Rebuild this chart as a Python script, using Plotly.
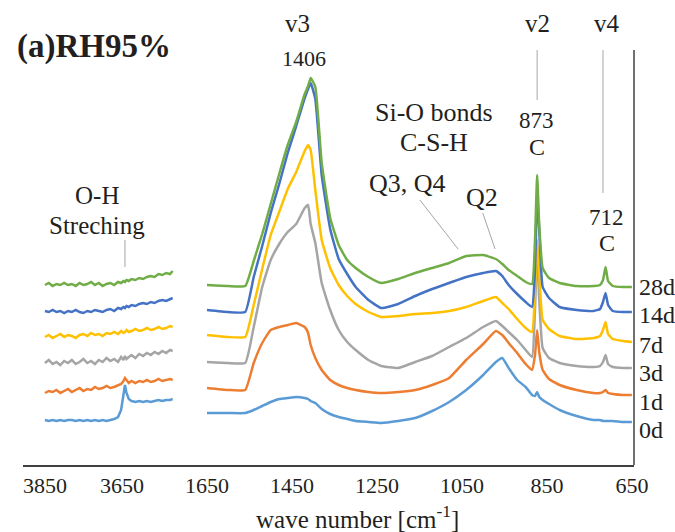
import plotly.graph_objects as go

# ---------------- data ----------------
ages = ["0d", "1d", "3d", "7d", "14d", "28d"]
colors = ["#5B9BD5", "#ED7D31", "#A5A5A5", "#FFC000", "#4472C4", "#70AD47"]

# O-H stretching region (cm-1)
wn_oh = [3850, 3840, 3830, 3820, 3810, 3800, 3790, 3780, 3770, 3760,
         3750, 3740, 3730, 3720, 3710, 3700, 3690, 3680, 3670, 3660,
         3652, 3646, 3642, 3638, 3632, 3625, 3615, 3605, 3595, 3585,
         3575, 3565, 3555, 3545, 3535, 3525, 3518]
oh_0d = [0.45, 0.44, 0.45, 0.44, 0.45, 0.44, 0.45, 0.45, 0.44, 0.45,
         0.44, 0.45, 0.44, 0.45, 0.44, 0.45, 0.44, 0.45, 0.46, 0.48,
         0.55, 0.70, 0.80, 0.72, 0.66, 0.64, 0.63, 0.64, 0.63, 0.64,
         0.63, 0.64, 0.65, 0.64, 0.65, 0.65, 0.66]
oh_1d = [0.72, 0.74, 0.73, 0.75, 0.72, 0.74, 0.76, 0.73, 0.75, 0.77,
         0.74, 0.76, 0.75, 0.78, 0.76, 0.77, 0.79, 0.77, 0.78, 0.80,
         0.81, 0.84, 0.87, 0.85, 0.82, 0.84, 0.82, 0.84, 0.83, 0.85,
         0.83, 0.84, 0.86, 0.84, 0.85, 0.86, 0.85]
oh_3d = [1.02, 1.05, 1.01, 1.03, 1.00, 1.04, 1.02, 1.05, 1.01, 1.03,
         1.06, 1.02, 1.04, 1.01, 1.05, 1.03, 1.07, 1.04, 1.06, 1.03,
         1.08, 1.05, 1.09, 1.06, 1.08, 1.10, 1.07, 1.11, 1.09, 1.12,
         1.10, 1.13, 1.11, 1.14, 1.12, 1.15, 1.14]
oh_7d = [1.28, 1.30, 1.27, 1.29, 1.31, 1.28, 1.30, 1.29, 1.27, 1.30,
         1.31, 1.29, 1.32, 1.30, 1.31, 1.29, 1.32, 1.31, 1.33, 1.31,
         1.34, 1.32, 1.33, 1.35, 1.33, 1.34, 1.36, 1.34, 1.35, 1.37,
         1.35, 1.36, 1.38, 1.36, 1.37, 1.39, 1.38]
oh_14d = [1.54, 1.53, 1.55, 1.53, 1.54, 1.52, 1.54, 1.53, 1.55, 1.53,
          1.52, 1.54, 1.53, 1.55, 1.54, 1.53, 1.55, 1.56, 1.54, 1.57,
          1.56, 1.58, 1.57, 1.59, 1.58, 1.60, 1.59, 1.61, 1.62, 1.61,
          1.63, 1.62, 1.64, 1.65, 1.64, 1.66, 1.67]
oh_28d = [1.80, 1.82, 1.79, 1.81, 1.80, 1.82, 1.80, 1.81, 1.79, 1.82,
          1.80, 1.81, 1.83, 1.80, 1.82, 1.79, 1.81, 1.82, 1.80, 1.83,
          1.82, 1.84, 1.83, 1.85, 1.84, 1.86, 1.85, 1.87, 1.86, 1.88,
          1.89, 1.88, 1.91, 1.90, 1.92, 1.91, 1.94]

# fingerprint region (cm-1)
wn_fp = [1650, 1600, 1560, 1540, 1520, 1500, 1480, 1460, 1440, 1420,
         1412, 1406, 1395, 1380, 1360, 1340, 1320, 1300, 1270, 1240,
         1200, 1160, 1120, 1080, 1040, 1000, 970, 955, 940, 920,
         900, 885, 878, 873, 868, 860, 845, 820, 780, 740,
         725, 718, 712, 706, 695, 670, 650]
fp_0d = [0.52, 0.52, 0.52, 0.55, 0.59, 0.63, 0.66, 0.67, 0.68, 0.67,
         0.66, 0.64, 0.62, 0.56, 0.51, 0.48, 0.46, 0.44, 0.43, 0.42,
         0.44, 0.47, 0.54, 0.63, 0.75, 0.90, 1.03, 1.07, 0.97, 0.85,
         0.78, 0.70, 0.69, 0.73, 0.68, 0.65, 0.61, 0.55, 0.49, 0.45,
         0.45, 0.44, 0.44, 0.44, 0.44, 0.43, 0.43]
fp_1d = [0.77, 0.75, 0.75, 1.02, 1.22, 1.35, 1.38, 1.40, 1.42, 1.38,
         1.32, 1.20, 1.07, 0.95, 0.85, 0.80, 0.77, 0.75, 0.73, 0.72,
         0.73, 0.75, 0.80, 0.87, 1.05, 1.21, 1.34, 1.30, 1.22, 1.12,
         1.01, 0.95, 1.10, 1.35, 1.13, 0.95, 0.86, 0.80, 0.75, 0.72,
         0.72, 0.73, 0.75, 0.72, 0.71, 0.70, 0.70]
fp_3d = [1.03, 1.02, 1.02, 1.38, 1.78, 2.05, 2.21, 2.33, 2.41, 2.57,
         2.60, 2.41, 2.22, 1.82, 1.55, 1.35, 1.23, 1.15, 1.05, 0.99,
         0.97, 1.03, 1.09, 1.18, 1.27, 1.38, 1.44, 1.39, 1.33, 1.25,
         1.15, 1.08, 1.55, 2.15, 1.65, 1.17, 1.07, 1.02, 0.99, 0.98,
         0.99, 1.03, 1.10, 1.01, 0.98, 0.97, 0.97]
fp_7d = [1.30, 1.28, 1.28, 1.60, 1.96, 2.30, 2.53, 2.76, 2.93, 3.14,
         3.20, 3.15, 2.75, 2.25, 1.97, 1.80, 1.69, 1.61, 1.53, 1.48,
         1.49, 1.51, 1.52, 1.54, 1.58, 1.64, 1.68, 1.62, 1.56, 1.46,
         1.37, 1.33, 1.75, 2.25, 1.90, 1.45, 1.36, 1.29, 1.26, 1.27,
         1.29, 1.35, 1.43, 1.31, 1.26, 1.24, 1.23]
fp_14d = [1.55, 1.53, 1.53, 1.88, 2.19, 2.52, 2.81, 3.12, 3.39, 3.67,
          3.76, 3.82, 3.66, 2.90, 2.36, 2.06, 1.91, 1.78, 1.65, 1.57,
          1.61, 1.69, 1.76, 1.82, 1.88, 1.92, 1.94, 1.89, 1.80, 1.71,
          1.63, 1.58, 1.95, 2.70, 2.35, 1.78, 1.67, 1.58, 1.55, 1.54,
          1.56, 1.63, 1.72, 1.60, 1.54, 1.53, 1.53]
fp_28d = [1.80, 1.79, 1.79, 2.04, 2.31, 2.61, 2.91, 3.20, 3.43, 3.71,
          3.79, 3.87, 3.78, 3.02, 2.47, 2.20, 2.05, 1.97, 1.88, 1.82,
          1.86, 1.92, 1.97, 2.02, 2.09, 2.10, 2.06, 2.01, 1.95, 1.89,
          1.83, 1.81, 2.25, 2.90, 2.40, 1.97, 1.87, 1.82, 1.79, 1.79,
          1.80, 1.85, 1.98, 1.84, 1.79, 1.78, 1.78]

ticks_oh = [3850, 3650]
ticks_fp = [1650, 1450, 1250, 1050, 850, 650]

oh_series = [oh_0d, oh_1d, oh_3d, oh_7d, oh_14d, oh_28d]
fp_series = [fp_0d, fp_1d, fp_3d, fp_7d, fp_14d, fp_28d]

# ---------------- figure ----------------
FONT = "Times New Roman, Liberation Serif, serif"
TXT = "#231f20"
fig = go.Figure()

for name, col, yo, yf in zip(ages, colors, oh_series, fp_series):
    fig.add_trace(go.Scatter(x=wn_oh, y=yo, mode="lines", name=name,
                             line=dict(color=col, width=2.5), xaxis="x", yaxis="y",
                             showlegend=False, hoverinfo="skip"))
    fig.add_trace(go.Scatter(x=wn_fp, y=yf, mode="lines", name=name,
                             line=dict(color=col, width=2.5, shape="spline", smoothing=0.4),
                             xaxis="x2", yaxis="y", showlegend=False))

split = 0.2733
axis_common = dict(showgrid=False, zeroline=False, showline=True,
                   linecolor="#404040", linewidth=1.5, ticks="",
                   tickfont=dict(family=FONT, size=22, color=TXT), anchor="y")

fig.update_layout(
    width=675, height=532,
    margin=dict(l=23, r=41, t=50, b=67),
    paper_bgcolor="white", plot_bgcolor="white",
    font=dict(family=FONT, color=TXT),
    xaxis=dict(domain=[0, split], range=[3907, 3473],
               tickmode="array", tickvals=ticks_oh, ticktext=[str(t) for t in ticks_oh],
               **axis_common),
    xaxis2=dict(domain=[split, 1], range=[1690, 645],
                tickmode="array", tickvals=ticks_fp, ticktext=[str(t) for t in ticks_fp],
                **axis_common),
    yaxis=dict(range=[0, 4.15], visible=False, fixedrange=True),
)

# right frame line
fig.add_shape(type="line", xref="paper", yref="paper", x0=1, x1=1, y0=0, y1=1,
              line=dict(color="#404040", width=1.5))

def ann(text, x, y, xref="x2", yref="y", size=25):
    fig.add_annotation(text=text, x=x, y=y, xref=xref, yref=yref,
                       xanchor="center", yanchor="middle",
                       showarrow=False, font=dict(family=FONT, size=size, color=TXT))

def leader(x0, y0, x1, y1, xref="x2"):
    fig.add_shape(type="line", xref=xref, yref="y", x0=x0, y0=y0, x1=x1, y1=y1,
                  line=dict(color="#a6a6a6", width=1))

# title
fig.add_annotation(text="<b>(a)RH95%</b>", x=-0.013, y=1.0096, xref="paper", yref="paper",
                   xanchor="left", yanchor="middle", showarrow=False,
                   font=dict(family=FONT, size=33, color=TXT))

# peak labels
ann("v3", 1436, 1.0627, yref="paper", size=25)
ann("1406", 1422, 4.07, size=22)
ann("Si-O bonds", 1116, 3.53, size=26)
ann("C-S-H", 1116, 3.23, size=26)
ann("Q3, Q4", 1177, 2.82, size=26)
ann("Q2", 1003, 2.68, size=26)
ann("v2", 871, 1.0627, yref="paper", size=25)
ann("873", 874, 3.45, size=23)
ann("C", 874, 3.18, size=24)
ann("v4", 709, 1.0627, yref="paper", size=25)
ann("712", 709, 2.48, size=23)
ann("C", 709, 2.22, size=24)
ann("O-H", 3715, 2.70, xref="x", size=25)
ann("Streching", 3715, 2.40, xref="x", size=25)

leader(873, 4.18, 873, 3.65)
leader(718, 4.18, 718, 2.72)
leader(1149, 2.65, 1059, 2.16)
leader(1001, 2.52, 972, 2.16)
leader(3642, 2.25, 3642, 1.98, xref="x")

# age labels at the right
age_y = [0.35, 0.63, 0.92, 1.20, 1.50, 1.78]
for name, yy in zip(ages, age_y):
    fig.add_annotation(text=name, x=1.005, y=yy, xref="paper", yref="y",
                       xanchor="left", yanchor="middle", showarrow=False,
                       font=dict(family=FONT, size=24, color=TXT))

# axis title
fig.add_annotation(text="wave number [cm<sup>-1</sup>]", x=0.548, y=-0.125,
                   xref="paper", yref="paper", xanchor="center", yanchor="middle",
                   showarrow=False, font=dict(family=FONT, size=25, color=TXT))

fig.write_html("out.html")
